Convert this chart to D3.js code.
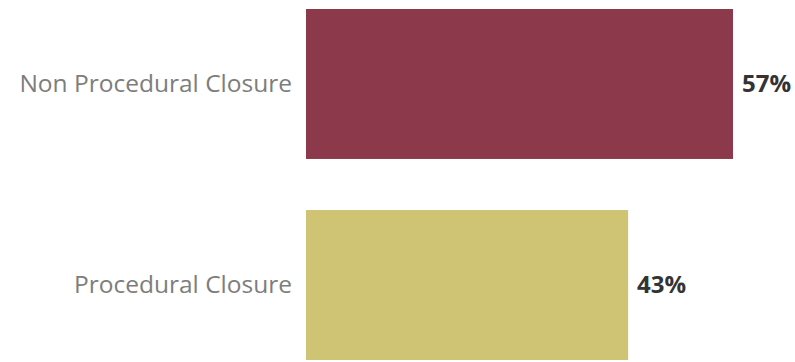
<!DOCTYPE html>
<html>
<head>
<meta charset="utf-8">
<script src="https://cdn.jsdelivr.net/npm/d3@7"></script>
<style>
  html, body { margin: 0; padding: 0; background: #fff; }
  svg { display: block; }
</style>
</head>
<body>
<svg id="chart" width="795" height="362"></svg>
<script>
// Share of closures by type
const categories = ["Non Procedural Closure", "Procedural Closure"];
const shares = [57, 43];
const colors = ["#8D394C", "#CFC473"];

const svg = d3.select("#chart");
const plotLeft = 306;

const x = d3.scaleLinear().domain([0, 57]).range([plotLeft, 733]);
const y = d3.scaleBand().domain(categories).range([9, 360]).paddingInner(0.254).paddingOuter(0);

svg.selectAll("rect.bar")
  .data(categories)
  .join("rect")
  .attr("class", "bar")
  .attr("x", x(0))
  .attr("y", d => y(d))
  .attr("width", (d, i) => x(shares[i]) - x(0))
  .attr("height", y.bandwidth())
  .attr("fill", (d, i) => colors[i]);

// Category labels, right-aligned to the bar start
const yAxis = d3.axisLeft(y).tickSize(0).tickPadding(14);
const g = svg.append("g").attr("transform", `translate(${plotLeft},0)`).call(yAxis);
g.select(".domain").remove();
g.selectAll("text")
  .attr("font-family", "'Open Sans', sans-serif")
  .attr("font-size", 24.5)
  .attr("fill", "#7d7d7d");

// Value labels at the end of each bar
svg.selectAll("text.val")
  .data(categories)
  .join("text")
  .attr("class", "val")
  .attr("x", (d, i) => x(shares[i]) + 9)
  .attr("y", d => y(d) + y.bandwidth() / 2)
  .attr("dy", "0.32em")
  .attr("font-family", "'Open Sans', sans-serif")
  .attr("font-weight", "bold")
  .attr("font-size", 24)
  .attr("fill", "#333333")
  .text((d, i) => shares[i] + "%");
</script>
</body>
</html>
